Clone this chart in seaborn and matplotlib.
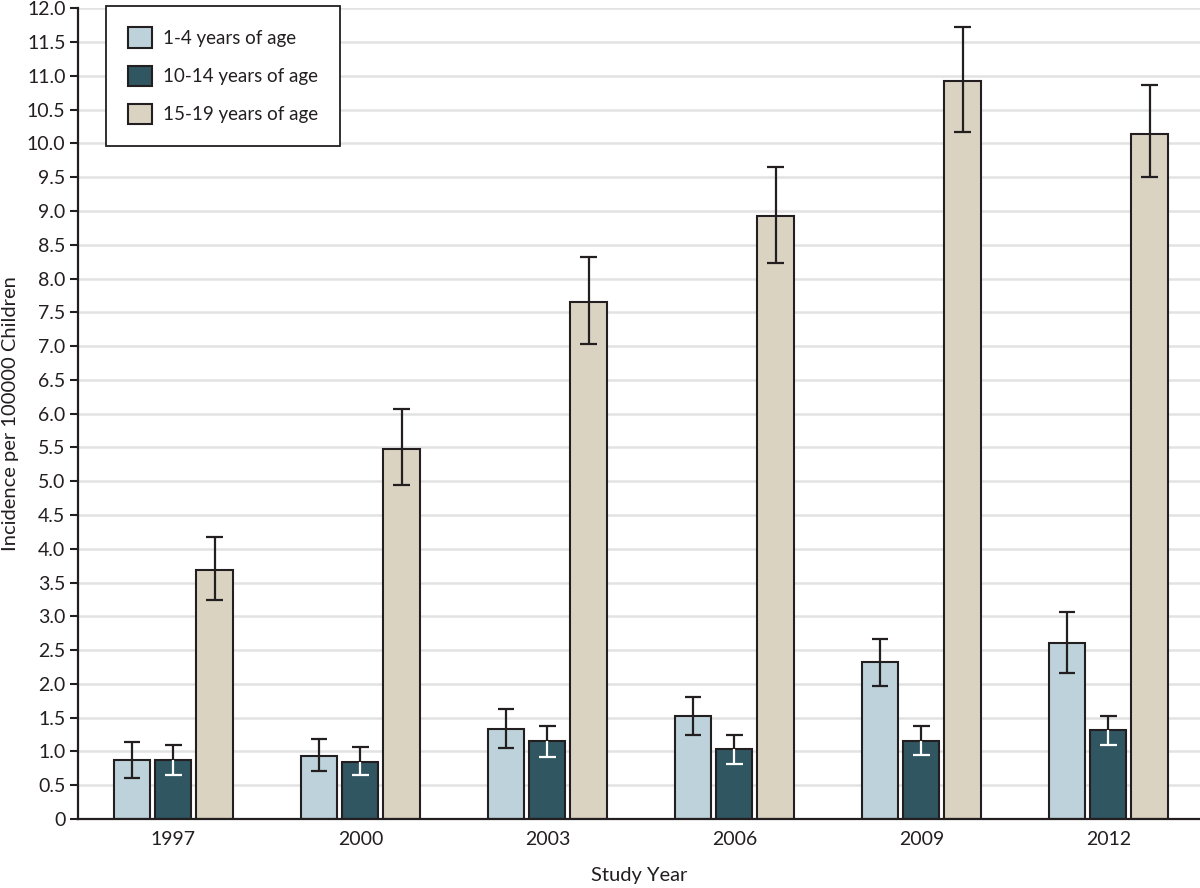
import numpy as np
import pandas as pd
import seaborn as sns
import matplotlib.pyplot as plt
from matplotlib.ticker import MultipleLocator, FuncFormatter

years = ["1997", "2000", "2003", "2006", "2009", "2012"]
groups = ["1-4 years of age", "10-14 years of age", "15-19 years of age"]

# incidence per 100000 children
age_1_4 = [0.87, 0.93, 1.33, 1.52, 2.33, 2.60]
age_1_4_lo = [0.60, 0.71, 1.05, 1.25, 1.97, 2.16]
age_1_4_hi = [1.14, 1.19, 1.63, 1.81, 2.67, 3.07]

age_10_14 = [0.87, 0.85, 1.15, 1.04, 1.15, 1.31]
age_10_14_lo = [0.65, 0.65, 0.92, 0.82, 0.95, 1.09]
age_10_14_hi = [1.09, 1.06, 1.38, 1.25, 1.38, 1.52]

age_15_19 = [3.69, 5.48, 7.65, 8.93, 10.92, 10.14]
age_15_19_lo = [3.24, 4.94, 7.03, 8.23, 10.17, 9.50]
age_15_19_hi = [4.17, 6.07, 8.32, 9.65, 11.72, 10.86]

colors = ["#bdd2da", "#2f5661", "#dbd3c2"]
ink = "#231f20"

sns.set_style("white")
plt.rcParams['font.family'] = ['Lato', 'DejaVu Sans']

vals = [age_1_4, age_10_14, age_15_19]
los = [age_1_4_lo, age_10_14_lo, age_15_19_lo]
his = [age_1_4_hi, age_10_14_hi, age_15_19_hi]

rows = []
for g, v in zip(groups, vals):
    for y, x in zip(years, v):
        rows.append({"Study Year": y, "Age": g, "Incidence": x})
df = pd.DataFrame(rows)

fig = plt.figure(figsize=(12, 8.88), dpi=100)
ax = fig.add_axes([0.065, 0.0777, 0.935, 0.913])

ax.yaxis.grid(True, color="#e2e2e2", linewidth=1.8, zorder=0)
ax.set_axisbelow(True)

sns.barplot(data=df, x="Study Year", y="Incidence", hue="Age",
            order=years, hue_order=groups, palette=colors, saturation=1,
            width=0.66, gap=0.12, edgecolor=ink, linewidth=1.5,
            errorbar=None, ax=ax, zorder=2)

cap = 0.044
for i, cont in enumerate(ax.containers):
    for j, bar in enumerate(cont):
        xc = bar.get_x() + bar.get_width() / 2
        v, lo, hi = vals[i][j], los[i][j], his[i][j]
        if i == 1:
            # part inside dark bar drawn in white
            ax.vlines(xc, lo, v, color="white", linewidth=1.6, zorder=4)
            ax.hlines(lo, xc - cap, xc + cap, color="white", linewidth=1.6, zorder=4)
            ax.vlines(xc, v, hi, color=ink, linewidth=1.6, zorder=4)
            ax.hlines(hi, xc - cap, xc + cap, color=ink, linewidth=1.6, zorder=4)
        else:
            ax.vlines(xc, lo, hi, color=ink, linewidth=1.6, zorder=4)
            ax.hlines([lo, hi], xc - cap, xc + cap, color=ink, linewidth=1.6, zorder=4)

ax.set_ylim(0, 12)
ax.set_xlim(-0.51, 5.49)
ax.yaxis.set_major_locator(MultipleLocator(0.5))
ax.yaxis.set_major_formatter(FuncFormatter(lambda y, p: "0" if y == 0 else f"{y:.1f}"))

for s in ["top", "right"]:
    ax.spines[s].set_visible(False)
for s in ["left", "bottom"]:
    ax.spines[s].set_color(ink)
    ax.spines[s].set_linewidth(1.6)

ax.tick_params(axis="y", which="major", left=True, length=6, width=1.5, color=ink,
               labelsize=14, labelcolor=ink, pad=3)
ax.tick_params(axis="x", bottom=False, labelsize=14, labelcolor=ink, pad=5)

ax.set_xlabel("Study Year", fontsize=14.5, color=ink, labelpad=14)
ax.set_ylabel("Incidence per 100000 Children", fontsize=14.5, color=ink, labelpad=6)

leg = ax.legend(loc="upper left", bbox_to_anchor=(0.025, 1.003), borderaxespad=0,
                fontsize=13.5, frameon=True, fancybox=False, edgecolor=ink,
                framealpha=1, handlelength=1.3, handleheight=1.3, handletextpad=0.6,
                labelspacing=0.95, borderpad=1.15, labelcolor=ink)
leg.get_frame().set_linewidth(1.3)

fig.savefig("out.png", dpi=100, facecolor="white")
